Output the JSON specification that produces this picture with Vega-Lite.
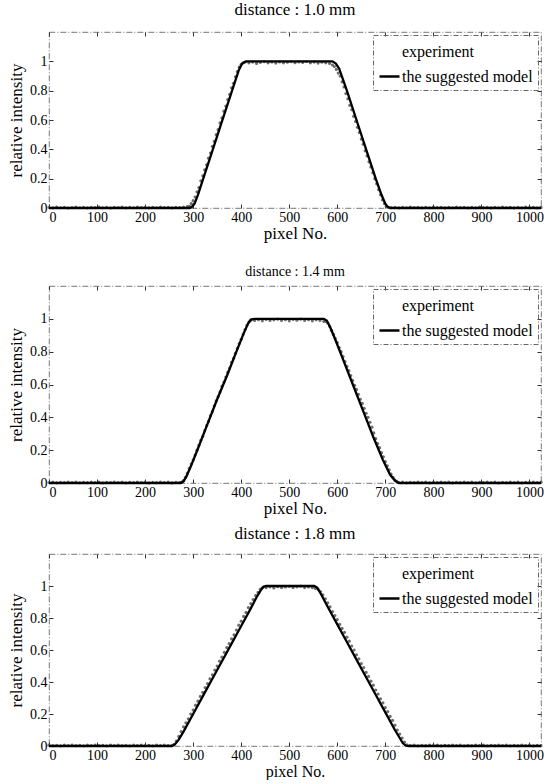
{
  "$schema": "https://vega.github.io/schema/vega-lite/v6.json",
  "padding": {"left": 7, "top": 0, "right": 4, "bottom": 0},
  "spacing": 22,
  "config": {
    "font": "Liberation Serif",
    "view": {"stroke": "#555", "strokeWidth": 0.8, "strokeDash": [6, 2, 1, 2]},
    "axis": {"labelFont": "Liberation Serif", "labelFontSize": 14, "labelColor": "#000", "titleFont": "Liberation Serif", "titleFontSize": 17, "titleFontWeight": "normal", "titleColor": "#000", "grid": false, "domain": false, "tickSize": -4, "tickColor": "#333", "labelPadding": 6, "labelOverlap": false},
    "title": {"font": "Liberation Serif", "fontSize": 16, "fontWeight": "normal", "color": "#000"},
    "legend": {"orient": "top-right", "offset": 3, "labelFont": "Liberation Serif", "labelFontSize": 16, "labelColor": "#000", "symbolType": "stroke", "symbolStrokeWidth": 2.5, "symbolSize": 400, "strokeColor": "#666", "padding": 5, "rowPadding": 5, "labelOffset": 1}
  },
  "resolve": {"legend": {"color": "independent"}},
  "datasets": {
    "m": [
      {"p":1,"x":0,"y":0},{"p":1,"x":293,"y":0},{"p":1,"x":298,"y":0.01},{"p":1,"x":303,"y":0.03},{"p":1,"x":310,"y":0.09},{"p":1,"x":320,"y":0.19},{"p":1,"x":340,"y":0.39},{"p":1,"x":360,"y":0.59},{"p":1,"x":380,"y":0.79},{"p":1,"x":395,"y":0.94},{"p":1,"x":402,"y":0.985},{"p":1,"x":410,"y":1},{"p":1,"x":590,"y":1},{"p":1,"x":597,"y":0.985},{"p":1,"x":604,"y":0.95},{"p":1,"x":620,"y":0.8},{"p":1,"x":640,"y":0.6},{"p":1,"x":660,"y":0.4},{"p":1,"x":680,"y":0.2},{"p":1,"x":692,"y":0.09},{"p":1,"x":700,"y":0.03},{"p":1,"x":705,"y":0.008},{"p":1,"x":710,"y":0},{"p":1,"x":1024,"y":0},
      {"p":2,"x":0,"y":0},{"p":2,"x":274,"y":0},{"p":2,"x":280,"y":0.01},{"p":2,"x":286,"y":0.04},{"p":2,"x":295,"y":0.1},{"p":2,"x":310,"y":0.21},{"p":2,"x":330,"y":0.36},{"p":2,"x":350,"y":0.51},{"p":2,"x":370,"y":0.65},{"p":2,"x":390,"y":0.8},{"p":2,"x":405,"y":0.91},{"p":2,"x":414,"y":0.97},{"p":2,"x":420,"y":0.995},{"p":2,"x":428,"y":1},{"p":2,"x":572,"y":1},{"p":2,"x":578,"y":0.99},{"p":2,"x":585,"y":0.95},{"p":2,"x":595,"y":0.88},{"p":2,"x":615,"y":0.73},{"p":2,"x":635,"y":0.58},{"p":2,"x":655,"y":0.43},{"p":2,"x":675,"y":0.28},{"p":2,"x":695,"y":0.14},{"p":2,"x":710,"y":0.05},{"p":2,"x":720,"y":0.015},{"p":2,"x":728,"y":0},{"p":2,"x":1024,"y":0},
      {"p":3,"x":0,"y":0},{"p":3,"x":256,"y":0},{"p":3,"x":262,"y":0.01},{"p":3,"x":270,"y":0.04},{"p":3,"x":280,"y":0.09},{"p":3,"x":300,"y":0.2},{"p":3,"x":320,"y":0.31},{"p":3,"x":340,"y":0.42},{"p":3,"x":360,"y":0.53},{"p":3,"x":380,"y":0.64},{"p":3,"x":400,"y":0.75},{"p":3,"x":420,"y":0.86},{"p":3,"x":432,"y":0.93},{"p":3,"x":440,"y":0.97},{"p":3,"x":446,"y":0.995},{"p":3,"x":452,"y":1},{"p":3,"x":552,"y":1},{"p":3,"x":558,"y":0.99},{"p":3,"x":566,"y":0.95},{"p":3,"x":580,"y":0.87},{"p":3,"x":600,"y":0.76},{"p":3,"x":620,"y":0.65},{"p":3,"x":640,"y":0.54},{"p":3,"x":660,"y":0.43},{"p":3,"x":680,"y":0.32},{"p":3,"x":700,"y":0.21},{"p":3,"x":720,"y":0.1},{"p":3,"x":730,"y":0.05},{"p":3,"x":736,"y":0.02},{"p":3,"x":742,"y":0.003},{"p":3,"x":748,"y":0},{"p":3,"x":1024,"y":0}
    ],
    "e": [
      {"p":1,"x":0,"y":0.004},{"p":1,"x":8,"y":0.001},{"p":1,"x":16,"y":0.006},{"p":1,"x":24,"y":0.002},{"p":1,"x":32,"y":0.005},{"p":1,"x":40,"y":0},{"p":1,"x":48,"y":0.003},{"p":1,"x":56,"y":0.006},{"p":1,"x":64,"y":0.002},{"p":1,"x":72,"y":0.004},{"p":1,"x":80,"y":0.001},{"p":1,"x":88,"y":0.005},{"p":1,"x":96,"y":0.003},{"p":1,"x":104,"y":0.006},{"p":1,"x":112,"y":0.002},{"p":1,"x":120,"y":0.004},{"p":1,"x":128,"y":0},{"p":1,"x":136,"y":0.005},{"p":1,"x":144,"y":0.003},{"p":1,"x":152,"y":0.006},{"p":1,"x":160,"y":0.001},{"p":1,"x":168,"y":0.004},{"p":1,"x":176,"y":0.002},{"p":1,"x":184,"y":0.006},{"p":1,"x":192,"y":0.003},{"p":1,"x":200,"y":0.005},{"p":1,"x":208,"y":0.001},{"p":1,"x":216,"y":0.004},{"p":1,"x":224,"y":0.002},{"p":1,"x":232,"y":0.006},{"p":1,"x":240,"y":0.003},{"p":1,"x":248,"y":0.005},{"p":1,"x":256,"y":0.001},{"p":1,"x":264,"y":0.004},{"p":1,"x":272,"y":0.003},{"p":1,"x":280,"y":0.006},{"p":1,"x":288,"y":0.009},
      {"p":1,"x":292,"y":0.012},{"p":1,"x":296,"y":0.03},{"p":1,"x":300,"y":0.05},{"p":1,"x":304,"y":0.075},{"p":1,"x":308,"y":0.11},{"p":1,"x":312,"y":0.14},{"p":1,"x":316,"y":0.185},{"p":1,"x":320,"y":0.22},{"p":1,"x":324,"y":0.26},{"p":1,"x":328,"y":0.295},{"p":1,"x":332,"y":0.34},{"p":1,"x":336,"y":0.375},{"p":1,"x":340,"y":0.42},{"p":1,"x":344,"y":0.455},{"p":1,"x":348,"y":0.5},{"p":1,"x":352,"y":0.535},{"p":1,"x":356,"y":0.58},{"p":1,"x":360,"y":0.615},{"p":1,"x":364,"y":0.66},{"p":1,"x":368,"y":0.695},{"p":1,"x":372,"y":0.74},{"p":1,"x":376,"y":0.775},{"p":1,"x":380,"y":0.82},{"p":1,"x":384,"y":0.85},{"p":1,"x":388,"y":0.895},{"p":1,"x":392,"y":0.93},{"p":1,"x":396,"y":0.96},{"p":1,"x":400,"y":0.98},{"p":1,"x":404,"y":0.99},{"p":1,"x":408,"y":0.995},
      {"p":1,"x":416,"y":0.99},{"p":1,"x":424,"y":0.995},{"p":1,"x":432,"y":0.986},{"p":1,"x":440,"y":0.993},{"p":1,"x":448,"y":0.998},{"p":1,"x":456,"y":0.99},{"p":1,"x":464,"y":0.995},{"p":1,"x":472,"y":0.988},{"p":1,"x":480,"y":0.996},{"p":1,"x":488,"y":0.99},{"p":1,"x":496,"y":0.994},{"p":1,"x":504,"y":0.998},{"p":1,"x":512,"y":0.991},{"p":1,"x":520,"y":0.996},{"p":1,"x":528,"y":0.992},{"p":1,"x":536,"y":0.999},{"p":1,"x":544,"y":0.99},{"p":1,"x":552,"y":0.995},{"p":1,"x":560,"y":0.988},{"p":1,"x":568,"y":0.994},{"p":1,"x":576,"y":0.99},{"p":1,"x":584,"y":0.986},{"p":1,"x":590,"y":0.975},
      {"p":1,"x":594,"y":0.965},{"p":1,"x":598,"y":0.945},{"p":1,"x":602,"y":0.92},{"p":1,"x":606,"y":0.9},{"p":1,"x":610,"y":0.86},{"p":1,"x":614,"y":0.825},{"p":1,"x":618,"y":0.78},{"p":1,"x":622,"y":0.745},{"p":1,"x":626,"y":0.7},{"p":1,"x":630,"y":0.67},{"p":1,"x":634,"y":0.625},{"p":1,"x":638,"y":0.59},{"p":1,"x":642,"y":0.55},{"p":1,"x":646,"y":0.515},{"p":1,"x":650,"y":0.47},{"p":1,"x":654,"y":0.435},{"p":1,"x":658,"y":0.39},{"p":1,"x":662,"y":0.355},{"p":1,"x":666,"y":0.315},{"p":1,"x":670,"y":0.28},{"p":1,"x":674,"y":0.24},{"p":1,"x":678,"y":0.2},{"p":1,"x":682,"y":0.165},{"p":1,"x":686,"y":0.125},{"p":1,"x":690,"y":0.09},{"p":1,"x":694,"y":0.055},{"p":1,"x":698,"y":0.03},{"p":1,"x":702,"y":0.012},{"p":1,"x":706,"y":0.005},
      {"p":1,"x":712,"y":0.003},{"p":1,"x":720,"y":0.005},{"p":1,"x":728,"y":0.001},{"p":1,"x":736,"y":0.004},{"p":1,"x":744,"y":0.002},{"p":1,"x":752,"y":0.006},{"p":1,"x":760,"y":0.003},{"p":1,"x":768,"y":0.005},{"p":1,"x":776,"y":0.001},{"p":1,"x":784,"y":0.004},{"p":1,"x":792,"y":0.002},{"p":1,"x":800,"y":0.006},{"p":1,"x":808,"y":0.003},{"p":1,"x":816,"y":0.005},{"p":1,"x":824,"y":0.001},{"p":1,"x":832,"y":0.004},{"p":1,"x":840,"y":0.002},{"p":1,"x":848,"y":0.006},{"p":1,"x":856,"y":0.003},{"p":1,"x":864,"y":0.005},{"p":1,"x":872,"y":0.001},{"p":1,"x":880,"y":0.004},{"p":1,"x":888,"y":0.002},{"p":1,"x":896,"y":0.006},{"p":1,"x":904,"y":0.003},{"p":1,"x":912,"y":0.005},{"p":1,"x":920,"y":0.001},{"p":1,"x":928,"y":0.004},{"p":1,"x":936,"y":0.002},{"p":1,"x":944,"y":0.006},{"p":1,"x":952,"y":0.003},{"p":1,"x":960,"y":0.005},{"p":1,"x":968,"y":0.001},{"p":1,"x":976,"y":0.004},{"p":1,"x":984,"y":0.002},{"p":1,"x":992,"y":0.006},{"p":1,"x":1000,"y":0.003},{"p":1,"x":1008,"y":0.005},{"p":1,"x":1016,"y":0.001},{"p":1,"x":1024,"y":0.004},

      {"p":2,"x":0,"y":0.003},{"p":2,"x":8,"y":0.005},{"p":2,"x":16,"y":0.001},{"p":2,"x":24,"y":0.004},{"p":2,"x":32,"y":0.002},{"p":2,"x":40,"y":0.006},{"p":2,"x":48,"y":0.003},{"p":2,"x":56,"y":0.005},{"p":2,"x":64,"y":0.001},{"p":2,"x":72,"y":0.004},{"p":2,"x":80,"y":0.002},{"p":2,"x":88,"y":0.006},{"p":2,"x":96,"y":0.003},{"p":2,"x":104,"y":0.005},{"p":2,"x":112,"y":0.001},{"p":2,"x":120,"y":0.004},{"p":2,"x":128,"y":0.002},{"p":2,"x":136,"y":0.006},{"p":2,"x":144,"y":0.003},{"p":2,"x":152,"y":0.005},{"p":2,"x":160,"y":0.001},{"p":2,"x":168,"y":0.004},{"p":2,"x":176,"y":0.002},{"p":2,"x":184,"y":0.006},{"p":2,"x":192,"y":0.003},{"p":2,"x":200,"y":0.005},{"p":2,"x":208,"y":0.001},{"p":2,"x":216,"y":0.004},{"p":2,"x":224,"y":0.002},{"p":2,"x":232,"y":0.006},{"p":2,"x":240,"y":0.003},{"p":2,"x":248,"y":0.005},{"p":2,"x":256,"y":0.001},{"p":2,"x":264,"y":0.004},{"p":2,"x":272,"y":0.003},
      {"p":2,"x":276,"y":0.005},{"p":2,"x":280,"y":0.015},{"p":2,"x":284,"y":0.035},{"p":2,"x":288,"y":0.06},{"p":2,"x":292,"y":0.09},{"p":2,"x":296,"y":0.115},{"p":2,"x":300,"y":0.14},{"p":2,"x":304,"y":0.17},{"p":2,"x":308,"y":0.2},{"p":2,"x":312,"y":0.23},{"p":2,"x":316,"y":0.26},{"p":2,"x":320,"y":0.285},{"p":2,"x":324,"y":0.32},{"p":2,"x":328,"y":0.35},{"p":2,"x":332,"y":0.375},{"p":2,"x":336,"y":0.41},{"p":2,"x":340,"y":0.435},{"p":2,"x":344,"y":0.47},{"p":2,"x":348,"y":0.5},{"p":2,"x":352,"y":0.525},{"p":2,"x":356,"y":0.555},{"p":2,"x":360,"y":0.59},{"p":2,"x":364,"y":0.615},{"p":2,"x":368,"y":0.645},{"p":2,"x":372,"y":0.675},{"p":2,"x":376,"y":0.7},{"p":2,"x":380,"y":0.735},{"p":2,"x":384,"y":0.76},{"p":2,"x":388,"y":0.79},{"p":2,"x":392,"y":0.82},{"p":2,"x":396,"y":0.85},{"p":2,"x":400,"y":0.875},{"p":2,"x":404,"y":0.905},{"p":2,"x":408,"y":0.935},{"p":2,"x":412,"y":0.96},{"p":2,"x":416,"y":0.98},{"p":2,"x":420,"y":0.99},
      {"p":2,"x":428,"y":0.99},{"p":2,"x":436,"y":0.995},{"p":2,"x":444,"y":0.988},{"p":2,"x":452,"y":0.996},{"p":2,"x":460,"y":0.99},{"p":2,"x":468,"y":0.994},{"p":2,"x":476,"y":0.998},{"p":2,"x":484,"y":0.99},{"p":2,"x":492,"y":0.995},{"p":2,"x":500,"y":0.988},{"p":2,"x":508,"y":0.996},{"p":2,"x":516,"y":0.992},{"p":2,"x":524,"y":0.998},{"p":2,"x":532,"y":0.99},{"p":2,"x":540,"y":0.995},{"p":2,"x":548,"y":0.988},{"p":2,"x":556,"y":0.994},{"p":2,"x":564,"y":0.99},{"p":2,"x":572,"y":0.985},
      {"p":2,"x":576,"y":0.985},{"p":2,"x":580,"y":0.975},{"p":2,"x":584,"y":0.955},{"p":2,"x":588,"y":0.93},{"p":2,"x":592,"y":0.905},{"p":2,"x":596,"y":0.88},{"p":2,"x":600,"y":0.855},{"p":2,"x":604,"y":0.825},{"p":2,"x":608,"y":0.8},{"p":2,"x":612,"y":0.77},{"p":2,"x":616,"y":0.74},{"p":2,"x":620,"y":0.71},{"p":2,"x":624,"y":0.685},{"p":2,"x":628,"y":0.655},{"p":2,"x":632,"y":0.625},{"p":2,"x":636,"y":0.595},{"p":2,"x":640,"y":0.57},{"p":2,"x":644,"y":0.54},{"p":2,"x":648,"y":0.51},{"p":2,"x":652,"y":0.485},{"p":2,"x":656,"y":0.455},{"p":2,"x":660,"y":0.425},{"p":2,"x":664,"y":0.4},{"p":2,"x":668,"y":0.37},{"p":2,"x":672,"y":0.34},{"p":2,"x":676,"y":0.305},{"p":2,"x":680,"y":0.27},{"p":2,"x":684,"y":0.24},{"p":2,"x":688,"y":0.215},{"p":2,"x":692,"y":0.185},{"p":2,"x":696,"y":0.16},{"p":2,"x":700,"y":0.13},{"p":2,"x":704,"y":0.105},{"p":2,"x":708,"y":0.08},{"p":2,"x":712,"y":0.055},{"p":2,"x":716,"y":0.035},{"p":2,"x":720,"y":0.018},{"p":2,"x":724,"y":0.008},{"p":2,"x":728,"y":0.003},
      {"p":2,"x":736,"y":0.005},{"p":2,"x":744,"y":0.001},{"p":2,"x":752,"y":0.004},{"p":2,"x":760,"y":0.002},{"p":2,"x":768,"y":0.006},{"p":2,"x":776,"y":0.003},{"p":2,"x":784,"y":0.005},{"p":2,"x":792,"y":0.001},{"p":2,"x":800,"y":0.004},{"p":2,"x":808,"y":0.002},{"p":2,"x":816,"y":0.006},{"p":2,"x":824,"y":0.003},{"p":2,"x":832,"y":0.005},{"p":2,"x":840,"y":0.001},{"p":2,"x":848,"y":0.004},{"p":2,"x":856,"y":0.002},{"p":2,"x":864,"y":0.006},{"p":2,"x":872,"y":0.003},{"p":2,"x":880,"y":0.005},{"p":2,"x":888,"y":0.001},{"p":2,"x":896,"y":0.004},{"p":2,"x":904,"y":0.002},{"p":2,"x":912,"y":0.006},{"p":2,"x":920,"y":0.003},{"p":2,"x":928,"y":0.005},{"p":2,"x":936,"y":0.001},{"p":2,"x":944,"y":0.004},{"p":2,"x":952,"y":0.002},{"p":2,"x":960,"y":0.006},{"p":2,"x":968,"y":0.003},{"p":2,"x":976,"y":0.005},{"p":2,"x":984,"y":0.001},{"p":2,"x":992,"y":0.004},{"p":2,"x":1000,"y":0.002},{"p":2,"x":1008,"y":0.006},{"p":2,"x":1016,"y":0.003},{"p":2,"x":1024,"y":0.005},

      {"p":3,"x":0,"y":0.005},{"p":3,"x":8,"y":0.002},{"p":3,"x":16,"y":0.004},{"p":3,"x":24,"y":0.001},{"p":3,"x":32,"y":0.006},{"p":3,"x":40,"y":0.003},{"p":3,"x":48,"y":0.005},{"p":3,"x":56,"y":0.002},{"p":3,"x":64,"y":0.004},{"p":3,"x":72,"y":0.001},{"p":3,"x":80,"y":0.006},{"p":3,"x":88,"y":0.003},{"p":3,"x":96,"y":0.005},{"p":3,"x":104,"y":0.002},{"p":3,"x":112,"y":0.004},{"p":3,"x":120,"y":0.001},{"p":3,"x":128,"y":0.006},{"p":3,"x":136,"y":0.003},{"p":3,"x":144,"y":0.005},{"p":3,"x":152,"y":0.002},{"p":3,"x":160,"y":0.004},{"p":3,"x":168,"y":0.001},{"p":3,"x":176,"y":0.006},{"p":3,"x":184,"y":0.003},{"p":3,"x":192,"y":0.005},{"p":3,"x":200,"y":0.002},{"p":3,"x":208,"y":0.004},{"p":3,"x":216,"y":0.001},{"p":3,"x":224,"y":0.006},{"p":3,"x":232,"y":0.003},{"p":3,"x":240,"y":0.005},{"p":3,"x":248,"y":0.002},{"p":3,"x":256,"y":0.004},
      {"p":3,"x":260,"y":0.01},{"p":3,"x":265,"y":0.03},{"p":3,"x":270,"y":0.06},{"p":3,"x":275,"y":0.09},{"p":3,"x":280,"y":0.12},{"p":3,"x":285,"y":0.145},{"p":3,"x":290,"y":0.17},{"p":3,"x":295,"y":0.2},{"p":3,"x":300,"y":0.225},{"p":3,"x":305,"y":0.255},{"p":3,"x":310,"y":0.28},{"p":3,"x":315,"y":0.31},{"p":3,"x":320,"y":0.335},{"p":3,"x":325,"y":0.365},{"p":3,"x":330,"y":0.39},{"p":3,"x":335,"y":0.42},{"p":3,"x":340,"y":0.445},{"p":3,"x":345,"y":0.475},{"p":3,"x":350,"y":0.5},{"p":3,"x":355,"y":0.53},{"p":3,"x":360,"y":0.555},{"p":3,"x":365,"y":0.585},{"p":3,"x":370,"y":0.615},{"p":3,"x":375,"y":0.64},{"p":3,"x":380,"y":0.67},{"p":3,"x":385,"y":0.695},{"p":3,"x":390,"y":0.725},{"p":3,"x":395,"y":0.755},{"p":3,"x":400,"y":0.78},{"p":3,"x":405,"y":0.81},{"p":3,"x":410,"y":0.835},{"p":3,"x":415,"y":0.865},{"p":3,"x":420,"y":0.89},{"p":3,"x":425,"y":0.915},{"p":3,"x":430,"y":0.94},{"p":3,"x":435,"y":0.96},{"p":3,"x":440,"y":0.98},{"p":3,"x":445,"y":0.99},
      {"p":3,"x":452,"y":0.99},{"p":3,"x":460,"y":0.995},{"p":3,"x":468,"y":0.988},{"p":3,"x":476,"y":0.996},{"p":3,"x":484,"y":0.99},{"p":3,"x":492,"y":0.994},{"p":3,"x":500,"y":0.998},{"p":3,"x":508,"y":0.99},{"p":3,"x":516,"y":0.995},{"p":3,"x":524,"y":0.999},{"p":3,"x":532,"y":0.99},{"p":3,"x":540,"y":0.994},{"p":3,"x":548,"y":0.99},{"p":3,"x":554,"y":0.985},
      {"p":3,"x":560,"y":0.98},{"p":3,"x":565,"y":0.965},{"p":3,"x":570,"y":0.945},{"p":3,"x":575,"y":0.92},{"p":3,"x":580,"y":0.895},{"p":3,"x":585,"y":0.87},{"p":3,"x":590,"y":0.84},{"p":3,"x":595,"y":0.815},{"p":3,"x":600,"y":0.79},{"p":3,"x":605,"y":0.76},{"p":3,"x":610,"y":0.735},{"p":3,"x":615,"y":0.71},{"p":3,"x":620,"y":0.68},{"p":3,"x":625,"y":0.655},{"p":3,"x":630,"y":0.625},{"p":3,"x":635,"y":0.6},{"p":3,"x":640,"y":0.57},{"p":3,"x":645,"y":0.545},{"p":3,"x":650,"y":0.515},{"p":3,"x":655,"y":0.49},{"p":3,"x":660,"y":0.46},{"p":3,"x":665,"y":0.435},{"p":3,"x":670,"y":0.405},{"p":3,"x":675,"y":0.38},{"p":3,"x":680,"y":0.35},{"p":3,"x":685,"y":0.325},{"p":3,"x":690,"y":0.295},{"p":3,"x":695,"y":0.27},{"p":3,"x":700,"y":0.24},{"p":3,"x":705,"y":0.215},{"p":3,"x":710,"y":0.185},{"p":3,"x":715,"y":0.16},{"p":3,"x":720,"y":0.13},{"p":3,"x":725,"y":0.1},{"p":3,"x":730,"y":0.075},{"p":3,"x":735,"y":0.05},{"p":3,"x":740,"y":0.025},{"p":3,"x":745,"y":0.008},
      {"p":3,"x":752,"y":0.003},{"p":3,"x":760,"y":0.005},{"p":3,"x":768,"y":0.001},{"p":3,"x":776,"y":0.004},{"p":3,"x":784,"y":0.002},{"p":3,"x":792,"y":0.006},{"p":3,"x":800,"y":0.003},{"p":3,"x":808,"y":0.005},{"p":3,"x":816,"y":0.001},{"p":3,"x":824,"y":0.004},{"p":3,"x":832,"y":0.002},{"p":3,"x":840,"y":0.006},{"p":3,"x":848,"y":0.003},{"p":3,"x":856,"y":0.005},{"p":3,"x":864,"y":0.001},{"p":3,"x":872,"y":0.004},{"p":3,"x":880,"y":0.002},{"p":3,"x":888,"y":0.006},{"p":3,"x":896,"y":0.003},{"p":3,"x":904,"y":0.005},{"p":3,"x":912,"y":0.001},{"p":3,"x":920,"y":0.004},{"p":3,"x":928,"y":0.002},{"p":3,"x":936,"y":0.006},{"p":3,"x":944,"y":0.003},{"p":3,"x":952,"y":0.005},{"p":3,"x":960,"y":0.001},{"p":3,"x":968,"y":0.004},{"p":3,"x":976,"y":0.002},{"p":3,"x":984,"y":0.006},{"p":3,"x":992,"y":0.003},{"p":3,"x":1000,"y":0.005},{"p":3,"x":1008,"y":0.001},{"p":3,"x":1016,"y":0.004},{"p":3,"x":1024,"y":0.002}
    ]
  },
  "vconcat": [
    {
      "width": 492, "height": 176,
      "title": {"text": "distance : 1.0 mm", "fontSize": 17, "offset": 13},
      "resolve": {"axis": {"x": "independent", "y": "independent"}},
      "layer": [
        {
          "data": {"name": "e"},
          "transform": [{"filter": "datum.p == 1"}],
          "mark": {"type": "point", "filled": true, "size": 10, "opacity": 0.85},
          "encoding": {
            "x": {"field": "x", "type": "quantitative", "scale": {"domain": [0, 1024], "nice": false}, "axis": {"title": "pixel No.", "values": [0,100,200,300,400,500,600,700,800,900,1000], "format": "d", "labelOverlap": false, "titlePadding": 1}},
            "y": {"field": "y", "type": "quantitative", "scale": {"domain": [0, 1.2], "nice": false}, "axis": {"title": "relative intensity", "values": [0,0.2,0.4,0.6,0.8,1], "format": "~g", "labelOverlap": false, "titlePadding": 4}},
            "color": {"datum": "experiment", "type": "nominal", "scale": {"domain": ["experiment", "the suggested model"], "range": ["#555555", "#000000"]},
              "legend": {"title": null, "encode": {"legend": {"update": {"strokeDash": {"value": [5, 2, 1, 2]}}}, "symbols": {"update": {"stroke": {"signal": "datum.value === 'experiment' ? 'transparent' : '#000'"}, "opacity": {"signal": "datum.value === 'experiment' ? 0 : 1"}}}}}}
          }
        },
        {
          "data": {"name": "m"},
          "transform": [{"filter": "datum.p == 1"}],
          "mark": {"type": "line", "strokeWidth": 2.3},
          "encoding": {
            "x": {"field": "x", "type": "quantitative", "axis": {"orient": "top", "title": null, "labels": false, "values": [0,100,200,300,400,500,600,700,800,900,1000]}},
            "y": {"field": "y", "type": "quantitative", "axis": {"orient": "right", "title": null, "labels": false, "values": [0,0.2,0.4,0.6,0.8,1]}},
            "color": {"datum": "the suggested model", "type": "nominal",
              "legend": {"title": null, "encode": {"legend": {"update": {"strokeDash": {"value": [5, 2, 1, 2]}}}, "symbols": {"update": {"stroke": {"signal": "datum.value === 'experiment' ? 'transparent' : '#000'"}, "opacity": {"signal": "datum.value === 'experiment' ? 0 : 1"}}}}}}
          }
        }
      ]
    },
    {
      "spacing": 7,
      "resolve": {"legend": {"color": "independent"}},
      "vconcat": [
        {
          "width": 492, "height": 197,
          "title": {"text": "distance : 1.4 mm", "fontSize": 14, "offset": 7},
          "resolve": {"axis": {"x": "independent", "y": "independent"}},
          "layer": [
            {
              "data": {"name": "e"},
              "transform": [{"filter": "datum.p == 2"}],
              "mark": {"type": "point", "filled": true, "size": 10, "opacity": 0.85},
              "encoding": {
                "x": {"field": "x", "type": "quantitative", "scale": {"domain": [0, 1024], "nice": false}, "axis": {"title": "pixel No.", "values": [0,100,200,300,400,500,600,700,800,900,1000], "format": "d", "labelOverlap": false, "titlePadding": 1}},
                "y": {"field": "y", "type": "quantitative", "scale": {"domain": [0, 1.2], "nice": false}, "axis": {"title": "relative intensity", "values": [0,0.2,0.4,0.6,0.8,1], "format": "~g", "labelOverlap": false, "titlePadding": 4}},
                "color": {"datum": "experiment", "type": "nominal", "scale": {"domain": ["experiment", "the suggested model"], "range": ["#555555", "#000000"]},
                  "legend": {"title": null, "encode": {"legend": {"update": {"strokeDash": {"value": [5, 2, 1, 2]}}}, "symbols": {"update": {"stroke": {"signal": "datum.value === 'experiment' ? 'transparent' : '#000'"}, "opacity": {"signal": "datum.value === 'experiment' ? 0 : 1"}}}}}}
              }
            },
            {
              "data": {"name": "m"},
              "transform": [{"filter": "datum.p == 2"}],
              "mark": {"type": "line", "strokeWidth": 2.3},
              "encoding": {
                "x": {"field": "x", "type": "quantitative", "axis": {"orient": "top", "title": null, "labels": false, "values": [0,100,200,300,400,500,600,700,800,900,1000]}},
                "y": {"field": "y", "type": "quantitative", "axis": {"orient": "right", "title": null, "labels": false, "values": [0,0.2,0.4,0.6,0.8,1]}},
                "color": {"datum": "the suggested model", "type": "nominal",
                  "legend": {"title": null, "encode": {"legend": {"update": {"strokeDash": {"value": [5, 2, 1, 2]}}}, "symbols": {"update": {"stroke": {"signal": "datum.value === 'experiment' ? 'transparent' : '#000'"}, "opacity": {"signal": "datum.value === 'experiment' ? 0 : 1"}}}}}}
              }
            }
          ]
        },
        {
          "width": 492, "height": 192,
          "title": {"text": "distance : 1.8 mm", "fontSize": 17, "offset": 11},
          "resolve": {"axis": {"x": "independent", "y": "independent"}},
          "layer": [
            {
              "data": {"name": "e"},
              "transform": [{"filter": "datum.p == 3"}],
              "mark": {"type": "point", "filled": true, "size": 10, "opacity": 0.85},
              "encoding": {
                "x": {"field": "x", "type": "quantitative", "scale": {"domain": [0, 1024], "nice": false}, "axis": {"title": "pixel No.", "values": [0,100,200,300,400,500,600,700,800,900,1000], "format": "d", "labelOverlap": false, "titlePadding": 1, "titleFontSize": 16}},
                "y": {"field": "y", "type": "quantitative", "scale": {"domain": [0, 1.2], "nice": false}, "axis": {"title": "relative intensity", "values": [0,0.2,0.4,0.6,0.8,1], "format": "~g", "labelOverlap": false, "titlePadding": 4}},
                "color": {"datum": "experiment", "type": "nominal", "scale": {"domain": ["experiment", "the suggested model"], "range": ["#555555", "#000000"]},
                  "legend": {"title": null, "encode": {"legend": {"update": {"strokeDash": {"value": [5, 2, 1, 2]}}}, "symbols": {"update": {"stroke": {"signal": "datum.value === 'experiment' ? 'transparent' : '#000'"}, "opacity": {"signal": "datum.value === 'experiment' ? 0 : 1"}}}}}}
              }
            },
            {
              "data": {"name": "m"},
              "transform": [{"filter": "datum.p == 3"}],
              "mark": {"type": "line", "strokeWidth": 2.3},
              "encoding": {
                "x": {"field": "x", "type": "quantitative", "axis": {"orient": "top", "title": null, "labels": false, "values": [0,100,200,300,400,500,600,700,800,900,1000]}},
                "y": {"field": "y", "type": "quantitative", "axis": {"orient": "right", "title": null, "labels": false, "values": [0,0.2,0.4,0.6,0.8,1]}},
                "color": {"datum": "the suggested model", "type": "nominal",
                  "legend": {"title": null, "encode": {"legend": {"update": {"strokeDash": {"value": [5, 2, 1, 2]}}}, "symbols": {"update": {"stroke": {"signal": "datum.value === 'experiment' ? 'transparent' : '#000'"}, "opacity": {"signal": "datum.value === 'experiment' ? 0 : 1"}}}}}}
              }
            }
          ]
        }
      ]
    }
  ]
}
